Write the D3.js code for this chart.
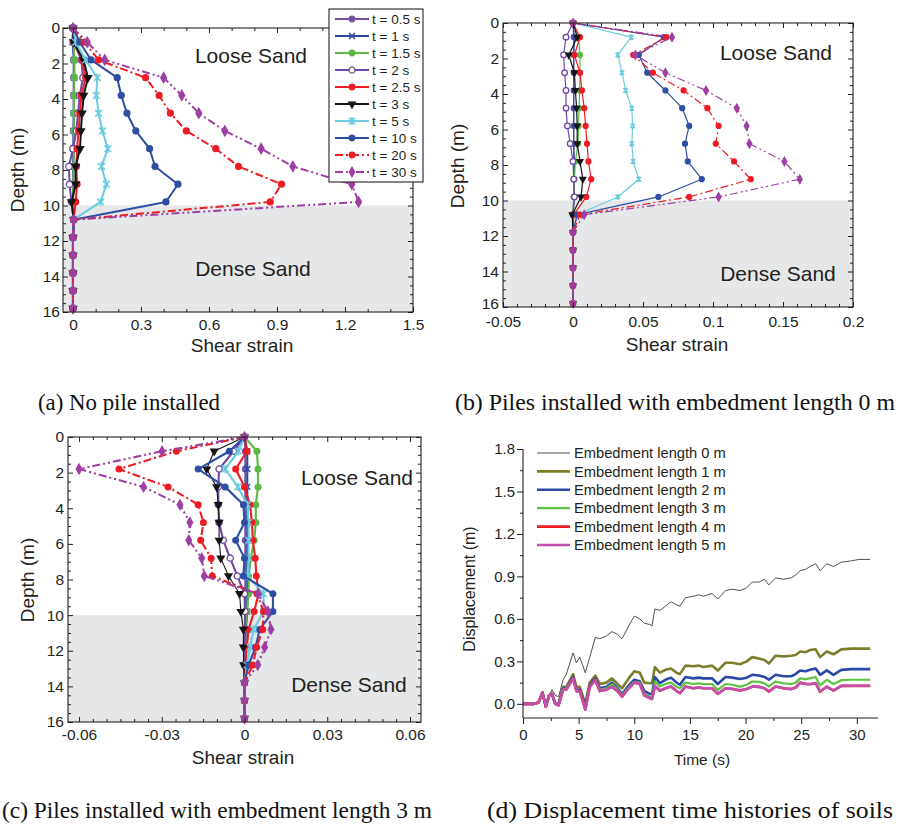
<!DOCTYPE html>
<html><head><meta charset="utf-8">
<script src="https://cdn.jsdelivr.net/npm/d3@7"></script>
<style>body{margin:0;background:#fff}svg{display:block}</style>
</head><body>
<svg id="chart" width="898" height="828"></svg>
<script>
// ---------- DATA ----------
const depths = [0,0.8,1.8,2.8,3.8,4.8,5.8,6.8,7.8,8.8,9.8,10.8,11.8,12.8,13.8,14.8,15.8];
const timeLabels = ["t = 0.5 s","t = 1 s","t = 1.5 s","t = 2 s","t = 2.5 s","t = 3 s","t = 5 s","t = 10 s","t = 20 s","t = 30 s"];

// (a) no pile
const a_t05 = [0,0.002,0.003,0.003,0.003,0.003,0.002,0.002,0.001,0.001,0.000,0.003,0,0,0,0,0];
const a_t1  = [0,-0.002,0.005,0.005,0.004,0.004,0.003,0.002,0.002,0.001,0.000,0.003,0,0,0,0,0];
const a_t15 = [0,0.003,0.006,0.006,0.005,0.004,0.004,0.003,0.002,0.001,0.001,0.003,0,0,0,0,0];
const a_t2  = [0,0.002,0.037,0.044,0.030,0.022,0.015,0.000,-0.018,-0.015,-0.007,0.003,0,0,0,0,0];
const a_t25 = [0,0.004,0.040,0.056,0.037,0.030,0.025,0.018,0.015,0.018,0.012,0.003,0,0,0,0,0];
const a_t3  = [0,0.003,0.047,0.066,0.047,0.040,0.035,0.031,0.012,0.012,-0.006,0.003,0,0,0,0,0];
const a_t5  = [0,0.012,0.056,0.107,0.103,0.113,0.130,0.154,0.126,0.147,0.122,0.003,0,0,0,0,0];
const a_t10 = [0,0.030,0.080,0.195,0.213,0.238,0.277,0.338,0.362,0.463,0.410,0.003,0,0,0,0,0];
const a_t20 = [0,0.050,0.113,0.320,0.380,0.430,0.500,0.630,0.730,0.920,0.870,0.003,0,0,0,0,0];
const a_t30 = [0,0.063,0.140,0.400,0.480,0.555,0.670,0.830,0.970,1.230,1.260,0.003,0,0,0,0,0];

// (b) embedment 0 m
const b_t05 = [0,0.0005,0.0005,0.0005,0.0005,0.0005,0.0005,0.0005,0.0005,0.0005,0.0005,0,0,0,0,0,0];
const b_t1  = [0,0.001,0.0005,0.0005,0.0005,0.0005,0.0005,0.0005,0.001,0.001,0.001,0,0,0,0,0,0];
const b_t15 = [0,0.004,0.005,0.005,0.0048,0.0043,0.004,0.0036,0.0017,0.001,0.0005,0,0,0,0,0,0];
const b_t2  = [0,-0.005,-0.0067,-0.006,-0.005,-0.005,-0.004,-0.002,0,0.0005,0.001,0,0,0,0,0,0];
const b_t25 = [0,0.005,0.001,0.005,0.0064,0.008,0.009,0.010,0.011,0.013,0.0095,0.0005,0,0,0,0,0];
const b_t3  = [0,0.003,-0.003,0.001,0.0017,0.0026,0.003,0.003,0.005,0.007,0.0057,-0.0005,0,0,0,0,0];
const b_t5  = [0,0.0417,0.032,0.035,0.0376,0.042,0.0426,0.042,0.043,0.047,0.032,0.003,0,0,0,0,0];
const b_t10 = [0,0.065,0.047,0.053,0.066,0.078,0.083,0.080,0.082,0.092,0.061,0.003,0,0,0,0,0];
const b_t20 = [0,0.0667,0.043,0.057,0.079,0.096,0.104,0.102,0.115,0.127,0.083,0.005,0,0,0,0,0];
const b_t30 = [0,0.0707,0.0445,0.066,0.095,0.117,0.124,0.126,0.151,0.162,0.104,0.008,0,0,0,0,0];

// (c) embedment 3 m
const c_t05 = [0,0.0003,0.0003,0.0003,0.0003,0.0003,0.0003,0.0003,0.0003,0.0003,0.0003,0.0002,0.0001,0,0,0,0];
const c_t1  = [0,0.001,0.001,0.001,0.001,0.001,0.001,0.001,0.001,0.001,0.001,0.0005,0.0003,0.0002,0,0,0];
const c_t15 = [0,0.0045,0.0049,0.0049,0.0041,0.0041,0.0035,0.0023,0.0015,0.0015,0.0009,0.0003,0.0002,0.0001,0,0,0];
const c_t2  = [0,-0.004,-0.0092,-0.0095,-0.0095,-0.0092,-0.0077,-0.0052,-0.0026,0,0.0002,0.0002,0.0001,0,0,0,0];
const c_t25 = [0,0.0009,-0.0032,0,0.002,0.0027,0.003,0.0039,0.0043,0.0051,0.0035,0.0015,0.0008,0.0003,0,0,0];
const c_t3  = [0,-0.011,-0.0137,-0.0101,-0.0095,-0.0092,-0.0092,-0.0086,-0.0058,-0.0018,-0.0013,-0.0004,-0.0004,-0.0003,0,0,0];
const c_t5  = [0,-0.0022,-0.007,-0.0024,0.0011,0.0015,0.0015,0.0015,0.0011,0.0069,0.0069,0.0033,0.002,0.0009,0,0,0];
const c_t10 = [0,-0.0055,-0.0168,-0.007,-0.0004,0,-0.0032,0,-0.0004,0.0103,0.0103,0.0055,0.0040,0.0015,0,0,0];
const c_t20 = [0,-0.0247,-0.0455,-0.0277,-0.0168,-0.0149,-0.0159,-0.0121,-0.0117,0.0045,0.0069,0.0066,0.0044,0.0030,0,0,0];
const c_t30 = [0,-0.0299,-0.0600,-0.0366,-0.0234,-0.0198,-0.0202,-0.0155,-0.0146,0.0049,0.0085,0.0096,0.0073,0.0048,0,0,0];

// (d) displacement time histories
const dispLabels = ["Embedment length 0 m","Embedment length 1 m","Embedment length 2 m","Embedment length 3 m","Embedment length 4 m","Embedment length 5 m"];
const dispTime = [0,1.0,1.4,1.75,2.05,2.35,2.6,2.9,3.2,3.6,3.9,4.5,4.8,5.1,5.6,6.0,6.5,6.9,7.5,8.0,8.5,8.9,9.5,10.0,10.5,10.9,11.4,11.6,11.85,12.3,12.8,13.3,13.8,14.1,14.6,15.3,15.8,16.2,17.0,17.5,18.2,18.8,19.5,20.1,20.6,21.2,21.7,22.1,22.7,23.4,24.1,24.5,24.9,25.4,25.8,26.3,26.7,27.3,27.9,28.6,29.5,30.2,31.2];
const disp0 = [0,0,0.01,0.08,0.0,0.06,0.1,0.06,0.05,0.17,0.21,0.36,0.29,0.33,0.22,0.33,0.47,0.46,0.48,0.51,0.49,0.46,0.55,0.62,0.60,0.57,0.56,0.55,0.67,0.66,0.69,0.72,0.70,0.69,0.75,0.76,0.77,0.76,0.78,0.74,0.80,0.81,0.80,0.82,0.86,0.86,0.88,0.84,0.89,0.88,0.89,0.91,0.94,0.95,0.97,0.99,0.94,0.99,0.97,1.00,1.01,1.02,1.02];
const disp1 = [0,0,0.01,0.08,-0.02,0.06,0.07,0.0,0.0,0.12,0.12,0.21,0.12,0.12,0.0,0.15,0.20,0.14,0.15,0.18,0.14,0.11,0.18,0.23,0.22,0.15,0.145,0.145,0.26,0.22,0.24,0.25,0.22,0.21,0.27,0.265,0.27,0.26,0.27,0.235,0.29,0.29,0.28,0.30,0.33,0.32,0.31,0.285,0.34,0.335,0.34,0.345,0.37,0.365,0.38,0.385,0.33,0.37,0.35,0.385,0.39,0.39,0.39];
const disp2 = [0,0,0.01,0.08,-0.02,0.06,0.07,0.0,0.0,0.11,0.11,0.19,0.10,0.10,-0.02,0.13,0.18,0.11,0.12,0.15,0.11,0.07,0.13,0.17,0.16,0.09,0.07,0.07,0.19,0.146,0.17,0.185,0.15,0.135,0.19,0.18,0.185,0.18,0.18,0.14,0.19,0.185,0.175,0.185,0.205,0.20,0.19,0.17,0.205,0.195,0.195,0.21,0.236,0.23,0.24,0.25,0.205,0.236,0.205,0.24,0.245,0.245,0.245];
const disp3 = [0,0,0.01,0.08,-0.02,0.06,0.07,0.0,-0.01,0.10,0.11,0.18,0.09,0.09,-0.03,0.12,0.17,0.10,0.11,0.14,0.10,0.06,0.12,0.155,0.15,0.07,0.05,0.05,0.158,0.122,0.14,0.15,0.12,0.11,0.15,0.14,0.145,0.14,0.14,0.098,0.14,0.135,0.122,0.135,0.158,0.155,0.145,0.122,0.158,0.145,0.14,0.15,0.18,0.175,0.18,0.19,0.13,0.17,0.14,0.167,0.17,0.17,0.17];
const disp4 = [0,0,0.01,0.08,-0.02,0.06,0.07,0.0,-0.01,0.10,0.10,0.18,0.09,0.09,-0.04,0.12,0.17,0.09,0.10,0.12,0.09,0.05,0.11,0.15,0.14,0.06,0.04,0.035,0.125,0.092,0.11,0.122,0.09,0.075,0.122,0.11,0.115,0.11,0.11,0.07,0.11,0.105,0.094,0.105,0.122,0.12,0.11,0.085,0.122,0.11,0.104,0.115,0.15,0.14,0.14,0.146,0.085,0.122,0.094,0.127,0.127,0.127,0.127];
const disp5 = [0,0,0.01,0.08,-0.02,0.06,0.07,0.0,-0.01,0.10,0.10,0.18,0.09,0.09,-0.04,0.12,0.17,0.09,0.10,0.12,0.09,0.05,0.11,0.15,0.14,0.06,0.04,0.035,0.127,0.094,0.11,0.122,0.09,0.076,0.122,0.11,0.115,0.11,0.11,0.072,0.11,0.106,0.095,0.105,0.122,0.12,0.11,0.088,0.122,0.11,0.105,0.116,0.148,0.14,0.138,0.144,0.088,0.121,0.095,0.127,0.128,0.128,0.128];

const captions = ["(a) No pile installed","(b) Piles installed with embedment length 0 m","(c) Piles installed with embedment length 3 m","(d) Displacement time histories of soils"];

// ---------- STYLES ----------
const seriesStyle = [
  {color:"#7650a8", marker:"circle"},
  {color:"#2b4a9e", marker:"times"},
  {color:"#5cb947", marker:"circle"},
  {color:"#6e48a6", marker:"open"},
  {color:"#ed1c24", marker:"circle"},
  {color:"#151515", marker:"tri"},
  {color:"#6ccbe0", marker:"aster"},
  {color:"#2e4ea2", marker:"circle"},
  {color:"#ed1c24", marker:"circle", dash:"8,3,2,3"},
  {color:"#9e3fa3", marker:"diamond", dash:"8,3,2,3,2,3"}
];
const dispStyle = [
  {color:"#3c3c3c", w:0.9},
  {color:"#7d7d2c", w:2.6},
  {color:"#2a48a6", w:2.6},
  {color:"#5cc242", w:2.2},
  {color:"#ee1c24", w:2.6},
  {color:"#c24fae", w:2.6}
];
const INK = "#231f20";
const SANS = "Liberation Sans, Arial, Helvetica, sans-serif";
const SERIF = "Liberation Serif, Times New Roman, Times, serif";
const TICK_FS = 15.5;

const svg = d3.select("#chart");

const symTimes = {draw(c,s){const r=Math.sqrt(s)/2;c.moveTo(-r,-r);c.lineTo(r,r);c.moveTo(r,-r);c.lineTo(-r,r);}};
const symAster = {draw(c,s){const r=Math.sqrt(s)/2;c.moveTo(-r,-r);c.lineTo(r,r);c.moveTo(r,-r);c.lineTo(-r,r);c.moveTo(0,-r*1.3);c.lineTo(0,r*1.3);}};

function drawMarker(sel, st, r, starScale) {
  const area = Math.PI*r*r;
  const ss = starScale || 1;
  if (st.marker === "circle") {
    sel.append("path").attr("d", d3.symbol().type(d3.symbolCircle).size(area)).attr("fill", st.color);
  } else if (st.marker === "open") {
    sel.append("path").attr("d", d3.symbol().type(d3.symbolCircle).size(area*0.8)).attr("fill", "#fff").attr("stroke", st.color).attr("stroke-width", 1.3);
  } else if (st.marker === "times") {
    sel.append("path").attr("d", d3.symbol().type(symTimes).size(area*0.9*ss)).attr("fill","none").attr("stroke", st.color).attr("stroke-width", 1.5);
  } else if (st.marker === "aster") {
    sel.append("path").attr("d", d3.symbol().type(symAster).size(area*1.1*ss)).attr("fill","none").attr("stroke", st.color).attr("stroke-width", 1.6);
  } else if (st.marker === "tri") {
    sel.append("path").attr("d", d3.symbol().type(d3.symbolTriangle).size(area*0.95)).attr("transform","rotate(180)").attr("fill", st.color);
  } else if (st.marker === "diamond") {
    sel.append("path").attr("d", d3.symbol().type(d3.symbolDiamond).size(area*1.15)).attr("fill", st.color);
  }
}

function styleAxis(g, fs) {
  g.select(".domain").remove();
  g.selectAll("line").attr("stroke", INK).attr("stroke-width", 1);
  g.selectAll("text").attr("font-family", SANS).attr("font-size", fs).attr("fill", INK);
}

function minorVals(domain, step, majors) {
  const out = [];
  const n0 = Math.ceil(domain[0]/step - 1e-9), n1 = Math.floor(domain[1]/step + 1e-9);
  for (let n = n0; n <= n1; n++) {
    const v = n*step;
    if (!majors.some(m => Math.abs(m - v) < step*1e-3)) out.push(v);
  }
  return out;
}

function profile(o) {
  const g = svg.append("g");
  const x = d3.scaleLinear().domain(o.xDomain).range([o.x0, o.x1]);
  const y = d3.scaleLinear().domain([0, 16]).range([o.y0, o.y1]);
  g.append("rect").attr("x", o.x0).attr("y", y(10)).attr("width", o.x1-o.x0).attr("height", y(16)-y(10)).attr("fill", "#e6e7e8");
  g.append("text").attr("x", o.loose[0]).attr("y", o.loose[1]).attr("text-anchor","middle").attr("font-family",SANS).attr("font-size",21).attr("fill",INK).text("Loose Sand");
  g.append("text").attr("x", o.dense[0]).attr("y", o.dense[1]).attr("text-anchor","middle").attr("font-family",SANS).attr("font-size",21).attr("fill",INK).text("Dense Sand");

  const line = d3.line().x(d => x(d[0])).y(d => y(d[1]));
  o.series.forEach((vals, i) => {
    const st = seriesStyle[i];
    const pts = depths.map((d, k) => [vals[k], d]);
    const w = (o.lwOver && o.lwOver[i] != null) ? o.lwOver[i] : o.lw;
    g.append("path").attr("d", line(pts)).attr("fill","none").attr("stroke", st.color)
      .attr("stroke-width", w).attr("stroke-linejoin","round")
      .attr("stroke-dasharray", st.dash || null);
    pts.forEach(p => {
      const m = g.append("g").attr("transform", `translate(${x(p[0])},${y(p[1])})`);
      drawMarker(m, st, o.mr, o.starScale);
    });
  });

  // frame
  g.append("rect").attr("x", o.x0).attr("y", o.y0).attr("width", o.x1-o.x0).attr("height", o.y1-o.y0)
    .attr("fill","none").attr("stroke", INK).attr("stroke-width", 1.1);

  const yMaj = [0,2,4,6,8,10,12,14,16];
  const yMin = minorVals([0,16], 0.5, yMaj);
  const xMin = minorVals(o.xDomain, o.xMinor, o.xTicks);
  const fmt = d => d === 0 ? "0" : String(d);

  g.append("g").attr("transform", `translate(0,${o.y1})`)
    .call(d3.axisBottom(x).tickValues(o.xTicks).tickFormat(fmt).tickSize(-5).tickSizeOuter(0).tickPadding(o.xPad || 7))
    .call(a => styleAxis(a, TICK_FS));
  g.append("g").attr("transform", `translate(0,${o.y1})`)
    .call(d3.axisBottom(x).tickValues(xMin).tickFormat("").tickSize(-3).tickSizeOuter(0)).call(a => styleAxis(a, TICK_FS));
  g.append("g").attr("transform", `translate(0,${o.y0})`)
    .call(d3.axisTop(x).tickValues(o.xTicks).tickFormat("").tickSize(-5).tickSizeOuter(0)).call(a => styleAxis(a, TICK_FS));
  g.append("g").attr("transform", `translate(0,${o.y0})`)
    .call(d3.axisTop(x).tickValues(xMin).tickFormat("").tickSize(-3).tickSizeOuter(0)).call(a => styleAxis(a, TICK_FS));
  const yAx = g.append("g").attr("transform", `translate(${o.x0},0)`)
    .call(d3.axisLeft(y).tickValues(yMaj).tickFormat(d3.format("d")).tickSize(-5).tickSizeOuter(0).tickPadding(o.yPad))
    .call(a => styleAxis(a, TICK_FS));
  if (o.lastLabelDy != null) yAx.selectAll(".tick text").filter(d => d === 16).attr("dy", o.lastLabelDy);
  g.append("g").attr("transform", `translate(${o.x0},0)`)
    .call(d3.axisLeft(y).tickValues(yMin).tickFormat("").tickSize(-3).tickSizeOuter(0)).call(a => styleAxis(a, TICK_FS));
  g.append("g").attr("transform", `translate(${o.x1},0)`)
    .call(d3.axisRight(y).tickValues(yMaj).tickFormat("").tickSize(-5).tickSizeOuter(0)).call(a => styleAxis(a, TICK_FS));
  g.append("g").attr("transform", `translate(${o.x1},0)`)
    .call(d3.axisRight(y).tickValues(yMin).tickFormat("").tickSize(-3).tickSizeOuter(0)).call(a => styleAxis(a, TICK_FS));

  g.append("text").attr("x", o.xTitle[0]).attr("y", o.xTitle[1]).attr("text-anchor","middle")
    .attr("font-family",SANS).attr("font-size",19).attr("fill",INK).text("Shear strain");
  g.append("text").attr("transform", `translate(${o.yTitle[0]},${o.yTitle[1]}) rotate(-90)`).attr("text-anchor","middle")
    .attr("font-family",SANS).attr("font-size",19).attr("fill",INK).text("Depth (m)");
  return g;
}

// (a)
profile({x0:63, x1:413, y0:28, y1:312, xDomain:[-0.044,1.5], xTicks:[0,0.3,0.6,0.9,1.2,1.5], xMinor:0.1,
  series:[a_t05,a_t1,a_t15,a_t2,a_t25,a_t3,a_t5,a_t10,a_t20,a_t30], lw:2, mr:3.6, yPad:3,
  loose:[251,63], dense:[253,276], xTitle:[242,352], yTitle:[24,170]});
// (b)
profile({x0:503, x1:853, y0:23, y1:307, xDomain:[-0.05,0.2], xTicks:[-0.05,0,0.05,0.1,0.15,0.2], xMinor:0.01,
  series:[b_t05,b_t1,b_t15,b_t2,b_t25,b_t3,b_t5,b_t10,b_t20,b_t30], lw:1.2, mr:3.1, yPad:4, starScale:0.6,
  xPad:9, lastLabelDy:"0.08em",
  loose:[776,60], dense:[778,281], xTitle:[677,351], yTitle:[464,166]});
// (c)
profile({x0:68, x1:421, y0:437, y1:722, xDomain:[-0.064,0.064], xTicks:[-0.06,-0.03,0,0.03,0.06], xMinor:0.005,
  series:[c_t05,c_t1,c_t15,c_t2,c_t25,c_t3,c_t5,c_t10,c_t20,c_t30], lw:2.1, mr:3.5, yPad:4, lwOver:{5:1.1},
  loose:[357,485], dense:[349,692], xTitle:[243,764], yTitle:[34,580]});

// legend for (a)
{
  const lg = svg.append("g");
  lg.append("rect").attr("x",329).attr("y",9).attr("width",94).attr("height",173).attr("fill","#fff").attr("stroke",INK).attr("stroke-width",1.1);
  const ly = d3.scalePoint().domain(timeLabels).range([19,172]);
  timeLabels.forEach((lab, i) => {
    const st = seriesStyle[i];
    const yy = ly(lab);
    lg.append("line").attr("x1",335).attr("x2",369).attr("y1",yy).attr("y2",yy).attr("stroke",st.color).attr("stroke-width",2).attr("stroke-dasharray", st.dash || null);
    drawMarker(lg.append("g").attr("transform",`translate(352,${yy})`), st, 3.4);
    lg.append("text").attr("x",372).attr("y",yy).attr("dy","0.35em").attr("font-family",SANS).attr("font-size",13.5).attr("fill",INK).text(lab);
  });
}

// (d)
{
  const g = svg.append("g");
  const x = d3.scaleLinear().domain([0,31.9]).range([523,878]);
  const y = d3.scaleLinear().domain([-0.1,1.8]).range([718,449]);
  const line = d3.line().x((d,i) => x(dispTime[i])).y(d => y(d));
  [disp0,disp1,disp2,disp3,disp4,disp5].forEach((vals,i) => {
    g.append("path").attr("d", line(vals)).attr("fill","none").attr("stroke",dispStyle[i].color)
      .attr("stroke-width",dispStyle[i].w).attr("stroke-linejoin","round");
  });
  const yMaj = [0,0.3,0.6,0.9,1.2,1.5,1.8];
  const yMin = [0.15,0.45,0.75,1.05,1.35,1.65];
  const xMaj = [0,5,10,15,20,25,30];
  const xMin = [2.5,7.5,12.5,17.5,22.5,27.5];
  g.append("g").attr("transform","translate(523,0)")
    .call(d3.axisLeft(y).tickValues(yMaj).tickFormat(d3.format(".1f")).tickSize(6).tickSizeOuter(0).tickPadding(2))
    .call(a => styleAxis(a, 15));
  g.append("g").attr("transform","translate(523,0)")
    .call(d3.axisLeft(y).tickValues(yMin).tickFormat("").tickSize(3).tickSizeOuter(0)).call(a => styleAxis(a, 15));
  g.append("g").attr("transform","translate(0,718)")
    .call(d3.axisBottom(x).tickValues(xMaj).tickFormat(d3.format("d")).tickSize(6).tickSizeOuter(0).tickPadding(5))
    .call(a => styleAxis(a, 15));
  g.append("g").attr("transform","translate(0,718)")
    .call(d3.axisBottom(x).tickValues(xMin).tickFormat("").tickSize(3).tickSizeOuter(0)).call(a => styleAxis(a, 15));
  g.append("line").attr("x1",523).attr("x2",523).attr("y1",449).attr("y2",718).attr("stroke",INK).attr("stroke-width",1.1);
  g.append("line").attr("x1",523).attr("x2",878).attr("y1",718).attr("y2",718).attr("stroke",INK).attr("stroke-width",1.1);
  g.append("text").attr("x",702).attr("y",765).attr("text-anchor","middle").attr("font-family",SANS).attr("font-size",15.5).attr("fill",INK).text("Time (s)");
  g.append("text").attr("transform","translate(475,589) rotate(-90)").attr("text-anchor","middle").attr("font-family",SANS).attr("font-size",16).attr("fill",INK).text("Displacement (m)");
  const ly = d3.scalePoint().domain(dispLabels).range([453,545]);
  dispLabels.forEach((lab,i) => {
    const yy = ly(lab);
    g.append("line").attr("x1",537).attr("x2",570).attr("y1",yy).attr("y2",yy).attr("stroke",dispStyle[i].color).attr("stroke-width",dispStyle[i].w);
    g.append("text").attr("x",574).attr("y",yy).attr("dy","0.35em").attr("font-family",SANS).attr("font-size",14.7).attr("fill",INK).text(lab);
  });
}

// captions
const capPos = [[38,410,182],[455,410,440],[2,818,430],[487,818,406]];
captions.forEach((c,i) => {
  svg.append("text").attr("x",capPos[i][0]).attr("y",capPos[i][1]).style("font-family",SERIF).attr("font-size",23)
    .attr("fill","#111").attr("textLength",capPos[i][2]).attr("lengthAdjust","spacingAndGlyphs").text(c);
});
</script>
</body></html>
